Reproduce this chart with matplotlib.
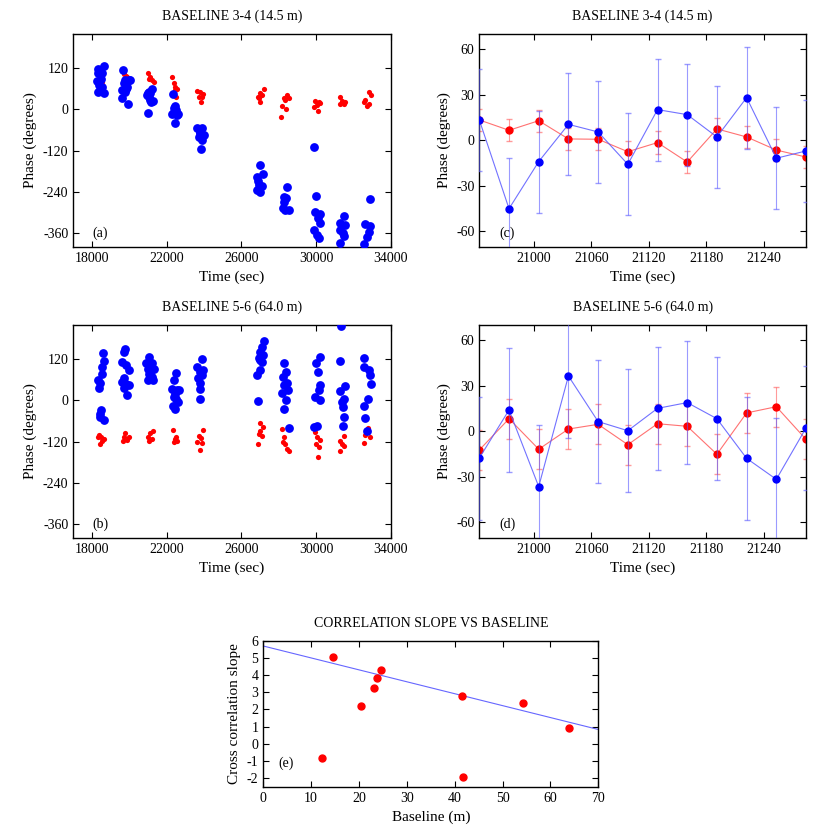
import matplotlib
matplotlib.use("Agg")
from matplotlib import pyplot as plt

plt.rcParams['font.family'] = ['Liberation Serif', 'DejaVu Serif']
plt.rcParams['font.size'] = 10
plt.rcParams['axes.unicode_minus'] = False

# panel (a): baseline 3-4, phase vs time
a_blue_t = [18303, 18625, 18446, 18321, 18536, 18268, 18482, 18357, 18536, 18321, 18625, 18446,
            19660, 19964, 19785, 19696, 19875, 19607, 19785, 19607, 19928, 19839, 20017,
            20981, 21035, 20945, 21124, 21213, 21088, 21160, 21267, 21035, 20981,
            22338, 22463, 22516, 22374, 22588, 22284, 22463, 22552, 22410,
            23623, 23891, 23801, 23980, 23712, 23891, 23837, 23766,
            26979, 26836, 27157, 26925, 27104, 26836, 27014, 26871,
            28442, 28264, 28406, 28228, 28353, 28532, 28299,
            29906, 30013, 29960, 30228, 30085, 30192, 29906, 30049, 30138,
            31477, 31263, 31566, 31299, 31441, 31513, 31263,
            32870, 32637, 32905, 32816, 32727, 32584]
a_blue_p = [119, 128, 116, 105, 107, 83, 90, 71, 66, 51, 48, 56,
            116, 87, 85, 76, 66, 56, 51, 32, 17, 61, 85,
            -10, 51, 42, 47, 61, 27, 22, 25, 37, 48,
            45, 10, -2, -7, -12, -12, -39, -16, 3,
            -55, -55, -65, -75, -80, -89, -116, -70,
            -161, -196, -188, -220, -223, -235, -242, -210,
            -225, -254, -259, -288, -293, -293, -269,
            -109, -252, -298, -304, -317, -332, -351, -366, -375,
            -312, -332, -337, -351, -361, -368, -390,
            -262, -334, -341, -356, -372, -392]
a_red_t = [18400, 18482, 18550,
           19700, 19800, 19900, 19950,
           20981, 21124, 21302, 21213, 21035,
           22284, 22374, 22463, 22552, 22427, 22516,
           23623, 23801, 23944, 23712, 23837, 23891,
           27193, 27014, 26925, 27104, 26979, 26871,
           28139, 28192, 28406, 28353, 28442, 28264, 28532,
           29960, 30138, 30049, 29870, 30085, 30228,
           31263, 31388, 31566, 31299, 31477,
           32816, 32941, 32637, 32727, 32584, 32816]
a_red_p = [85, 90, 80,
           102, 98, 95, 80,
           105, 95, 80, 85, 90,
           95, 76, 66, 61, 58, 37,
           54, 51, 45, 37, 22, 37,
           61, 47, 32, 42, 22, 37,
           -23, 10, 0, 27, 42, 32, 32,
           25, 22, 13, 8, -5, 18,
           35, 25, 22, 16, 17,
           51, 42, 27, 10, 22, 17]

# panel (b): baseline 5-6, phase vs time
b_blue_t = [18589, 18625, 18536, 18536, 18303, 18410, 18393, 18482, 18410, 18625, 18446,
            19696, 19785, 19607, 19839, 19964, 19696, 19607, 19839, 19964, 19732, 19875,
            21035, 20910, 21213, 20981, 21302, 21035, 21213, 20981, 21267, 21124,
            22516, 22374, 22552, 22284, 22463, 22641, 22374, 22588, 22338, 22463, 22516,
            23891, 23623, 23944, 23766, 23891, 23659, 23801, 23766, 23801,
            27193, 27104, 27014, 27157, 26925, 27104, 27014, 26836, 26871, 26979,
            28299, 28406, 28228, 28442, 28299, 28478, 28174, 28406, 28264, 28532,
            30228, 30013, 30085, 30228, 30138, 29960, 30192, 30049, 29906,
            31334, 31299, 31566, 31263, 31477, 31441, 31513, 31441, 31388,
            32548, 32584, 32816, 32905, 32941, 32763, 32584, 32637, 32727]
b_blue_p = [139, 116, 96, 76, 59, 51, 36, -27, -47, -57, -41,
            142, 149, 113, 103, 88, 64, 54, 49, 44, 37, 15,
            127, 108, 110, 93, 93, 78, 69, 59, 59, 83,
            80, 59, 31, 34, 20, 31, 10, -5, -15, -25, 5,
            120, 96, 88, 83, 74, 64, 51, 34, 5,
            172, 157, 142, 132, 123, 113, 88, 74, -2, 118,
            108, 83, 69, 51, 44, 29, 22, 0, -25, -80,
            127, 108, 83, 44, 31, 10, 2, -74, -78,
            216, 116, 41, 27, 5, -20, -47, -74, -5,
            123, 96, 88, 74, 49, 5, -15, -51, -90]
b_red_t = [18357, 18482, 18625, 18446, 18536, 18303,
           19785, 19696, 19875, 19964, 19660,
           21124, 20981, 21267, 21035, 21213,
           22338, 22463, 22552, 22374, 22516,
           23944, 23712, 23837, 23623, 23801, 23891,
           27014, 27157, 26925, 27104, 26871, 27014,
           28174, 28299, 28228, 28442, 28532, 28353,
           29960, 30049, 30192, 30013, 30138, 30085,
           31263, 31513, 31388, 31263, 31477,
           32763, 32870, 32637, 32584, 32727]
b_red_p = [-100, -108, -113, -127, -118, -106,
           -96, -108, -116, -106, -118,
           -96, -108, -90, -118, -113,
           -86, -113, -118, -120, -108,
           -86, -103, -110, -120, -145, -125,
           -67, -78, -98, -103, -127, -90,
           -83, -106, -122, -142, -147, -127,
           -93, -108, -116, -127, -137, -165,
           -118, -103, -127, -147, -132,
           -80, -108, -100, -125, -93]

# panels (c) and (d): phase vs time, zoomed
ct = [20943, 20974, 21005, 21036, 21067, 21098, 21129, 21160, 21191, 21222, 21253, 21284]
c_blue = [13.4, -45, -14, 10.5, 5.5, -15.8, 20.2, 16.9, 2.2, 28.1, -11.8, -7]
c_red = [13.4, 6.6, 12.9, 0.9, 0.7, -7.5, -1.5, -14.3, 7.5, 2.2, -6.4, -11]
c_blue_err = 33.6
c_red_err = 7.3
d_blue = [-17.6, 14, -36.4, 36.4, 6.4, 0.4, 15.1, 18.9, 8.3, -17.8, -31.6, 2.2]
d_red = [-12.3, 8.3, -11.8, 1.5, 4.6, -8.8, 5, 3.3, -15.1, 12.1, 16.2, -5.3]
d_blue_err = 40.5
d_red_err = 13.2

# panel (e): cross correlation slope vs baseline
e_base = [14.56, 12.19, 20.48, 23.12, 23.68, 24.66, 41.58, 41.79, 54.33, 63.87]
e_slope = [5.06, -0.83, 2.18, 3.27, 3.85, 4.28, 2.8, -1.94, 2.39, 0.89]
fit_x = [0, 70]
fit_y = [5.69, 0.83]

fig = plt.figure(figsize=(8.3, 8.3), dpi=100)


def style(ax):
    ax.tick_params(direction='in', top=True, right=True, length=4, width=0.8)
    for s in ax.spines.values():
        s.set_linewidth(1.0)


def time_panel(rect, bt, bp, rt, rp, title, lab):
    ax = fig.add_axes(rect)
    ax.scatter(rt, rp, s=14, color='red', linewidths=0, zorder=2)
    ax.scatter(bt, bp, s=40, color='blue', linewidths=0, zorder=3)
    ax.set_xlim(17000, 34000)
    ax.set_ylim(-400, 220)
    ax.set_xticks([18000, 22000, 26000, 30000, 34000])
    ax.set_yticks([120, 0, -120, -240, -360])
    ax.set_xlabel('Time (sec)', fontsize=11)
    ax.set_ylabel('Phase (degrees)', fontsize=11)
    ax.set_title(title, fontsize=10, pad=10)
    ax.text(0.085, 0.065, lab, transform=ax.transAxes, ha='center', va='center', fontsize=10)
    style(ax)
    return ax


def zoom_panel(rect, blue, red, berr, rerr, title, lab):
    ax = fig.add_axes(rect)
    ax.errorbar(ct, red, yerr=rerr, color=(1, 0.35, 0.35, 0.85), ecolor=(1, 0.35, 0.35, 0.6),
                lw=0.8, capsize=2, elinewidth=0.8, marker='o', ms=5, mfc='red', mec='red', zorder=2)
    ax.errorbar(ct, blue, yerr=berr, color=(0.35, 0.35, 1, 0.85), ecolor=(0.35, 0.35, 1, 0.6),
                lw=0.8, capsize=2, elinewidth=0.8, marker='o', ms=5, mfc='blue', mec='blue', zorder=3)
    ax.set_xlim(ct[0], ct[-1])
    ax.set_ylim(-70, 70)
    ax.set_xticks([21000, 21060, 21120, 21180, 21240])
    ax.set_yticks([60, 30, 0, -30, -60])
    ax.set_xlabel('Time (sec)', fontsize=11)
    ax.set_ylabel('Phase (degrees)', fontsize=11)
    ax.set_title(title, fontsize=10, pad=10)
    ax.text(0.086, 0.065, lab, transform=ax.transAxes, ha='center', va='center', fontsize=10)
    style(ax)
    return ax


time_panel([0.0883, 0.7028, 0.3824, 0.2563], a_blue_t, a_blue_p, a_red_t, a_red_p,
           'BASELINE 3-4 (14.5 m)', '(a)')
time_panel([0.0883, 0.3522, 0.3824, 0.2563], b_blue_t, b_blue_p, b_red_t, b_red_p,
           'BASELINE 5-6 (64.0 m)', '(b)')
zoom_panel([0.5775, 0.7028, 0.3936, 0.2563], c_blue, c_red, c_blue_err, c_red_err,
           'BASELINE 3-4 (14.5 m)', '(c)')
zoom_panel([0.5775, 0.3522, 0.3936, 0.2563], d_blue, d_red, d_blue_err, d_red_err,
           'BASELINE 5-6 (64.0 m)', '(d)')

ax = fig.add_axes([0.3172, 0.0522, 0.4036, 0.1759])
ax.plot(fit_x, fit_y, color=(0.4, 0.4, 1), lw=0.8)
ax.plot(e_base, e_slope, 'o', color='red', ms=5, mec='red')
ax.set_xlim(0, 70)
ax.set_ylim(-2.5, 6)
ax.set_xticks(range(0, 71, 10))
ax.set_yticks(range(-2, 7))
ax.set_xlabel('Baseline (m)', fontsize=11)
ax.set_ylabel('Cross correlation slope', fontsize=11)
ax.set_title('CORRELATION SLOPE VS BASELINE', fontsize=10, pad=10)
ax.text(0.068, 0.16, '(e)', transform=ax.transAxes, ha='center', va='center', fontsize=10)
style(ax)

fig.savefig('out.png', dpi=100)
